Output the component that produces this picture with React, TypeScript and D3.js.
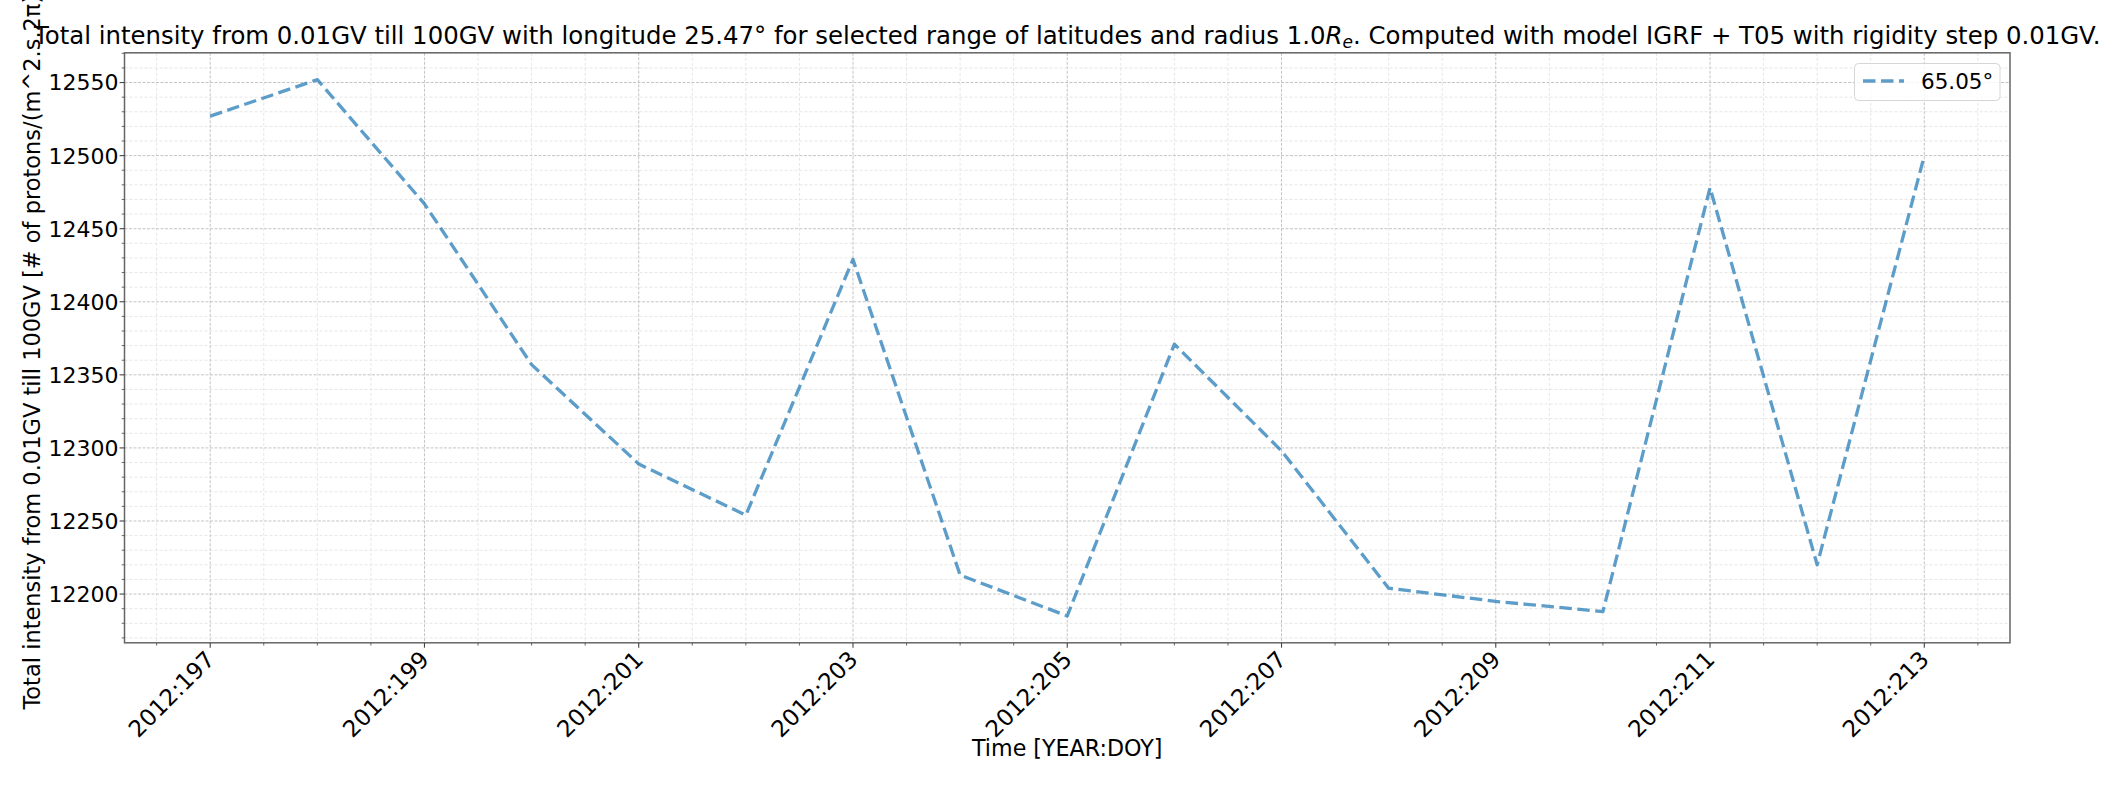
import React from 'react';
import * as d3 from 'd3';

// ---- data ----
const days = [197, 198, 199, 200, 201, 202, 203, 204, 205, 206, 207, 208, 209, 210, 211, 212, 213];
const intensity = [12527, 12552, 12467, 12357, 12289, 12254, 12429, 12213, 12185, 12371, 12298, 12204, 12195, 12188, 12478, 12220, 12500];
const xTickDays = [197, 199, 201, 203, 205, 207, 209, 211, 213];
const yTicks = [12200, 12250, 12300, 12350, 12400, 12450, 12500, 12550];
const year = '2012';
const seriesLabel = '65.05°';

const FONT = '"DejaVu Sans", sans-serif';

export default function App() {
  const W = 2122;
  const H = 785;
  const left = 124.5, right = 2010, top = 52.8, bottom = 642.8;

  const xMin = d3.min(days)!, xMax = d3.max(days)!;
  const xPad = (xMax - xMin) * 0.05;
  const x = d3.scaleLinear().domain([xMin - xPad, xMax + xPad]).range([left, right]);
  const [yMin, yMax] = d3.extent(intensity) as [number, number];
  const yPad = (yMax - yMin) * 0.05;
  const y = d3.scaleLinear().domain([yMin - yPad, yMax + yPad]).range([bottom, top]);

  const [xd0, xd1] = x.domain();
  const [yd0, yd1] = y.domain();
  const xMinor = d3.range(Math.ceil(xd0 * 2) / 2, xd1, 0.5).filter((d) => !xTickDays.includes(d));
  const yMinor = d3.range(Math.ceil(yd0 / 10) * 10, yd1, 10).filter((d) => !yTicks.includes(d));

  const line = d3.line<number>().x((_, i) => x(days[i])).y((d) => y(d));
  const path = line(intensity) || '';

  const lineColor = '#1f77b4';

  return (
    <svg
      width={W}
      height={H}
      style={{ position: 'absolute', left: 0, top: 0, display: 'block', background: '#fff' }}
      fontFamily={FONT}
    >
      <rect x={0} y={0} width={W} height={H} fill="#fff" />
      {/* minor grid */}
      {xMinor.map((d) => (
        <line key={'xm' + d} x1={x(d)} x2={x(d)} y1={top} y2={bottom} stroke="#e6e6e6" strokeWidth={1} strokeDasharray="3,2" />
      ))}
      {yMinor.map((d) => (
        <line key={'ym' + d} x1={left} x2={right} y1={y(d)} y2={y(d)} stroke="#e6e6e6" strokeWidth={1} strokeDasharray="3,2" />
      ))}
      {/* major grid */}
      {xTickDays.map((d) => (
        <line key={'xg' + d} x1={x(d)} x2={x(d)} y1={top} y2={bottom} stroke="#c4c4c4" strokeWidth={1} strokeDasharray="3,1.5" />
      ))}
      {yTicks.map((d) => (
        <line key={'yg' + d} x1={left} x2={right} y1={y(d)} y2={y(d)} stroke="#c4c4c4" strokeWidth={1} strokeDasharray="3,1.5" />
      ))}

      {/* data line */}
      <path d={path} fill="none" stroke={lineColor} strokeOpacity={0.72} strokeWidth={3.3} strokeDasharray="12.5,5.5" strokeLinejoin="round" />

      {/* spines */}
      <rect x={left} y={top} width={right - left} height={bottom - top} fill="none" stroke="#666" strokeWidth={1.5} />

      {/* ticks */}
      {xTickDays.map((d) => (
        <line key={'xt' + d} x1={x(d)} x2={x(d)} y1={bottom} y2={bottom + 4.9} stroke="#444" strokeWidth={1.1} />
      ))}
      {xMinor.map((d) => (
        <line key={'xmt' + d} x1={x(d)} x2={x(d)} y1={bottom} y2={bottom + 2.8} stroke="#444" strokeWidth={0.8} />
      ))}
      {yTicks.map((d) => (
        <line key={'yt' + d} x1={left} x2={left - 4.9} y1={y(d)} y2={y(d)} stroke="#444" strokeWidth={1.1} />
      ))}
      {yMinor.map((d) => (
        <line key={'ymt' + d} x1={left} x2={left - 2.8} y1={y(d)} y2={y(d)} stroke="#444" strokeWidth={0.8} />
      ))}

      {/* tick labels */}
      {yTicks.map((d) => (
        <text key={'yl' + d} x={118.5} y={y(d)} dy="0.36em" textAnchor="end" fontSize={22} fill="#000">
          {d}
        </text>
      ))}
      {xTickDays.map((d) => {
        const px = x(d) + 6;
        const py = bottom + 18;
        return (
          <text key={'xl' + d} x={px} y={py} textAnchor="end" fontSize={23} fill="#000" transform={`rotate(-45 ${px} ${py})`}>
            {`${year}:${d}`}
          </text>
        );
      })}

      {/* axis labels */}
      <text x={(left + right) / 2} y={756} textAnchor="middle" fontSize={22.2} fill="#000">
        Time [YEAR:DOY]
      </text>
      <text x={40.5} y={(top + bottom) / 2} textAnchor="middle" fontSize={22.5} fill="#000" transform={`rotate(-90 40.5 ${(top + bottom) / 2})`}>
        Total intensity from 0.01GV till 100GV [# of protons/(m^2.s.2π)]
      </text>

      {/* title */}
      <text x={(left + right) / 2} y={43.5} textAnchor="middle" fontSize={24.4} fill="#000">
        Total intensity from 0.01GV till 100GV with longitude 25.47° for selected range of latitudes and radius 1.0
        <tspan fontStyle="italic">R</tspan>
        <tspan fontStyle="italic" fontSize={17} dy={4}>e</tspan>
        <tspan dy={-4}>. Computed with model IGRF + T05 with rigidity step 0.01GV.</tspan>
      </text>

      {/* legend */}
      <rect x={1854.5} y={63.5} width={145.5} height={37} rx={4} ry={4} fill="#fff" fillOpacity={0.8} stroke="#d6d6d6" strokeWidth={1} />
      <line x1={1863} x2={1904} y1={81} y2={81} stroke={lineColor} strokeOpacity={0.72} strokeWidth={3.3} strokeDasharray="12.5,5.5" />
      <text x={1921} y={89} fontSize={21.5} fill="#000">
        {seriesLabel}
      </text>
    </svg>
  );
}
